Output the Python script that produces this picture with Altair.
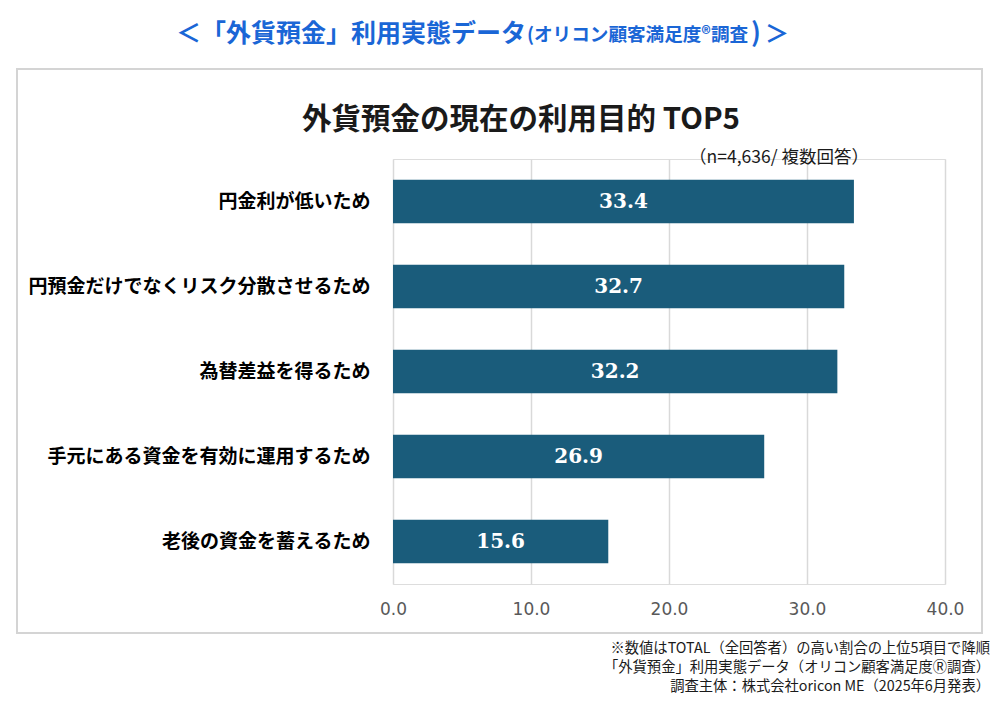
import altair as alt
import pandas as pd

categories = [
    "円金利が低いため",
    "円預金だけでなくリスク分散させるため",
    "為替差益を得るため",
    "手元にある資金を有効に運用するため",
    "老後の資金を蓄えるため",
]
values = [33.4, 32.7, 32.2, 26.9, 15.6]
tick_values = [0, 10, 20, 30, 40]

header_main = "＜「外貨預金」利用実態データ"
header_sub = "(オリコン顧客満足度®調査"
header_close = ")"
header_end = "＞"
title_text = "外貨預金の現在の利用目的 TOP5"
subtitle_text = "（n=4,636/ 複数回答）"
footnotes = [
    "※数値はTOTAL（全回答者）の高い割合の上位5項目で降順",
    "「外貨預金」利用実態データ（オリコン顧客満足度Ⓡ調査）",
    "調査主体：株式会社oricon ME（2025年6月発表）",
]

FONT = "Noto Sans CJK JP"
BAR_COLOR = "#1a5c7b"
BLUE = "#1a66d6"

df = pd.DataFrame({"category": categories, "value": values})

x_scale = alt.Scale(domain=[0, 40], nice=False)
y_scale = alt.Scale(domain=categories, paddingInner=0.49, paddingOuter=0.245)

bars = alt.Chart(df).mark_bar(color=BAR_COLOR).encode(
    x=alt.X(
        "value:Q",
        scale=x_scale,
        axis=alt.Axis(
            values=tick_values,
            format=".1f",
            title=None,
            grid=True,
            gridColor="#d9d9d9",
            gridWidth=1.5,
            domain=False,
            ticks=False,
            labelFlush=False,
            labelPadding=17,
            labelFont="DejaVu Sans",
            labelFontSize=17,
            labelColor="#595959",
        ),
    ),
    y=alt.Y(
        "category:N",
        scale=y_scale,
        sort=categories,
        axis=alt.Axis(
            title=None,
            domain=False,
            ticks=False,
            grid=False,
            labelPadding=23,
            labelFont=FONT,
            labelFontWeight="bold",
            labelFontSize=19,
            labelColor="#000000",
            labelLimit=500,
        ),
    ),
)

bar_labels = alt.Chart(df).transform_calculate(
    mid="datum.value / 2"
).mark_text(
    font="DejaVu Serif", fontWeight="bold", fontSize=20, color="white", baseline="middle"
).encode(
    x=alt.X("mid:Q", scale=x_scale),
    y=alt.Y("category:N", scale=y_scale, sort=categories),
    text=alt.Text("value:Q", format=".1f"),
)

one = pd.DataFrame({"a": [0]})

border = alt.Chart(one).mark_rect(
    fill="transparent", stroke="#d4d4d4", strokeWidth=2
).encode(
    x=alt.value(-376), x2=alt.value(589), y=alt.value(-90), y2=alt.value(474)
)


def label(text, x, y, size, color="#000000", weight="normal", align="left", baseline="middle"):
    return alt.Chart(pd.DataFrame({"t": [text]})).mark_text(
        font=FONT, fontSize=size, fontWeight=weight, color=color, align=align, baseline=baseline
    ).encode(text="t:N", x=alt.value(x), y=alt.value(y))


texts = [
    label(header_main, 133, -117, 25, BLUE, "bold", "right", "alphabetic"),
    label(header_sub, 134, -118, 18.6, BLUE, "bold", "left", "alphabetic"),
    label(header_close, 363, -117, 26, BLUE, "bold", "center", "alphabetic"),
    label(header_end, 384, -117, 24, BLUE, "bold", "center", "alphabetic"),
    label(title_text, 128, -39, 29.5, "#1a1a1a", "bold", "center"),
    label(subtitle_text, 476, -1, 17.5, "#1a1a1a", "normal", "right"),
]
for i, line in enumerate(footnotes):
    texts.append(label(line, 597, 490 + i * 19, 14.3, "#1a1a1a", "normal", "right"))

chart = alt.layer(border, bars, bar_labels, *texts).properties(
    width=552,
    height=425,
    autosize=alt.AutoSizeParams(type="none"),
    padding={"left": 385, "top": 151, "right": 48, "bottom": 111},
).configure_view(stroke=None).configure(background="white")

chart.save("out.html", embed_options={"renderer": "svg", "actions": False})
